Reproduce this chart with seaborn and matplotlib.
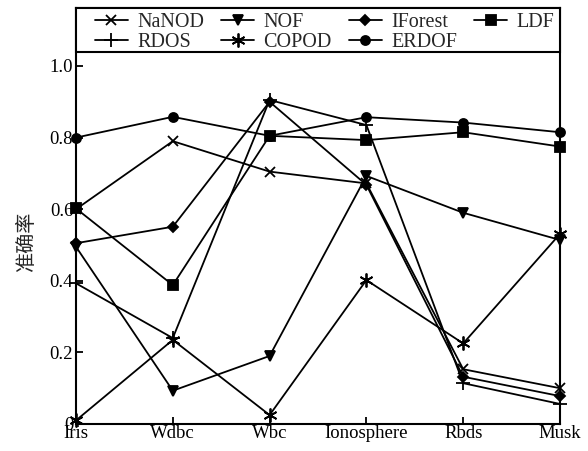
import matplotlib
matplotlib.use("Agg")
import matplotlib.pyplot as plt
from matplotlib.patches import Rectangle
import seaborn as sns
import pandas as pd
import numpy as np

categories = ["Iris", "Wdbc", "Wbc", "Ionosphere", "Rbds", "Musk"]
nanod = [0.60, 0.79, 0.705, 0.672, 0.153, 0.100]
nof = [0.495, 0.093, 0.19, 0.693, 0.59, 0.514]
iforest = [0.505, 0.551, 0.90, 0.668, 0.132, 0.078]
ldf = [0.602, 0.388, 0.805, 0.793, 0.815, 0.775]
rdos = [0.393, 0.24, 0.905, 0.835, 0.114, 0.056]
copod = [0.01, 0.235, 0.025, 0.402, 0.225, 0.531]
erdof = [0.80, 0.858, 0.805, 0.857, 0.842, 0.815]
yticks = [0, 0.2, 0.4, 0.6, 0.8, 1.0]
ytick_labels = ["0", "0.2", "0.4", "0.6", "0.8", "1.0"]

sns.set_style("ticks")
plt.rcParams['font.family'] = ['Liberation Serif', 'Noto Sans CJK SC']

fig = plt.figure(figsize=(5.88, 4.51), dpi=100)
ax = fig.add_axes([76/588, 1-424/451, (560-76)/588, (424-8)/451])

series = [
    ("NaNOD", nanod, "x", 7),
    ("RDOS", rdos, "+", 10),
    ("NOF", nof, "v", 7),
    ("COPOD", copod, (6, 2, 0), 10),
    ("IForest", iforest, "D", 5),
    ("ERDOF", erdof, "o", 6.5),
    ("LDF", ldf, "s", 6.5),
]
xpos = np.arange(len(categories))
for name, vals, mk, ms in series:
    df = pd.DataFrame({"x": xpos, "y": vals})
    sns.lineplot(data=df, x="x", y="y", ax=ax, color="black", linewidth=1.3,
                 marker=mk, markersize=ms, markeredgecolor="black",
                 markerfacecolor="black", markeredgewidth=1.3, label=name,
                 clip_on=False)

ax.set_xlim(0, 5)
ax.set_ylim(0, 1.162)
ax.set_xticks(xpos)
ax.set_xticklabels(categories, fontsize=13.5)
ax.set_yticks(yticks)
ax.set_yticklabels(ytick_labels, fontsize=13.5)
ax.tick_params(direction="in", length=5, width=1.3, pad=2, colors="black")
ax.tick_params(axis="x", pad=1)
ax.set_xlabel("")
ax.set_ylabel("准确率", fontsize=14.5, family=['Noto Sans CJK SC'])
ax.yaxis.set_label_coords(-0.08, 0.4375)
for s in ax.spines.values():
    s.set_linewidth(1.5)
    s.set_color("black")

# legend box spanning the top of the axes
ybox = (424 - 52) / 416
ax.add_patch(Rectangle((0, ybox), 1, 1 - ybox, transform=ax.transAxes,
                       facecolor="white", edgecolor="black", linewidth=1.5,
                       zorder=4.5, clip_on=False))
leg = ax.legend(loc="upper left", bbox_to_anchor=(0.039, 0.988),
                ncol=4, borderaxespad=0, frameon=False, fontsize=14.5,
                handlelength=1.65, handletextpad=0.45, columnspacing=0.85,
                labelspacing=0.05, borderpad=0)
leg.set_zorder(5)

fig.savefig("out.png", dpi=100)
